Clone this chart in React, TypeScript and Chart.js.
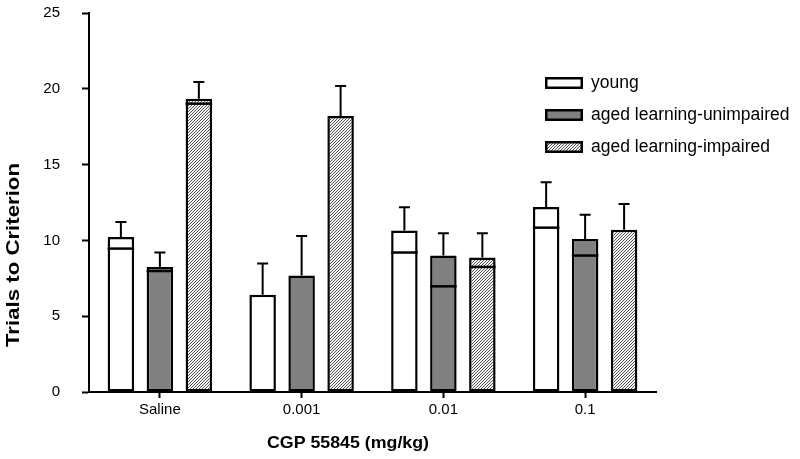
import React, { useEffect, useRef } from "react";
import { Chart, registerables } from "chart.js";

Chart.register(...registerables);

const categories = ["Saline", "0.001", "0.01", "0.1"];
const seriesNames = ["young", "aged learning-unimpaired", "aged learning-impaired"];

const youngMeans = [10.22, 6.42, 10.65, 12.2];
const youngSem = [0.99, 2.05, 1.53, 1.63];
const youngInner = [9.46, null, 9.2, 10.84];

const unimpairedMeans = [8.25, 7.68, 9.0, 10.09];
const unimpairedSem = [0.95, 2.61, 1.47, 1.61];
const unimpairedInner = [7.98, null, 6.97, 9.0];

const impairedMeans = [19.35, 18.2, 8.87, 10.71];
const impairedSem = [1.1, 1.98, 1.6, 1.69];
const impairedInner = [19.02, null, 8.25, null];

const yTicks = [0, 5, 10, 15, 20, 25];

const FONT = "'Liberation Sans', Arial, sans-serif";

function makeHatch(): CanvasPattern | string {
  const c = document.createElement("canvas");
  c.width = 3;
  c.height = 3;
  const g = c.getContext("2d");
  if (!g) return "#aaa";
  const img = g.createImageData(3, 3);
  for (let y = 0; y < 3; y++) {
    for (let x = 0; x < 3; x++) {
      const k = (y * 3 + x) * 4;
      const dark = (x + y) % 3 === 2;
      const v = dark ? 85 : 245;
      img.data[k] = v;
      img.data[k + 1] = v;
      img.data[k + 2] = v;
      img.data[k + 3] = 255;
    }
  }
  g.putImageData(img, 0, 0);
  const p = g.createPattern(c, "repeat");
  return p || "#aaa";
}

function fitText(ctx: any, text: string, x: number, y: number, target: number) {
  const w = ctx.measureText(text).width;
  const s = w > 0 ? target / w : 1;
  ctx.save();
  ctx.translate(x, y);
  ctx.scale(s, 1);
  ctx.fillText(text, 0, 0);
  ctx.restore();
}

const overlayPlugin = {
  id: "overlay",
  afterDatasetsDraw(chart: any) {
    const ctx = chart.ctx;
    const ys = chart.scales.y;
    ctx.save();
    chart.data.datasets.forEach((ds: any, i: number) => {
      const meta = chart.getDatasetMeta(i);
      meta.data.forEach((bar: any, j: number) => {
        const p = bar.getProps(["x", "y", "width"], true);
        const v = ds.data[j];
        const inner = ds.inner[j];
        if (inner !== null && inner !== undefined) {
          const yi = ys.getPixelForValue(inner);
          ctx.strokeStyle = "#000";
          ctx.lineWidth = 2.5;
          ctx.beginPath();
          ctx.moveTo(p.x - p.width / 2, yi);
          ctx.lineTo(p.x + p.width / 2, yi);
          ctx.stroke();
        }
        const yTop = ys.getPixelForValue(v + ds.sem[j]);
        ctx.strokeStyle = "#000";
        ctx.lineWidth = 2;
        ctx.beginPath();
        ctx.moveTo(p.x, p.y);
        ctx.lineTo(p.x, yTop);
        ctx.moveTo(p.x - 5.5, yTop);
        ctx.lineTo(p.x + 5.5, yTop);
        ctx.stroke();
      });
    });
    ctx.restore();
  },
  afterDraw(chart: any) {
    const ctx = chart.ctx;
    ctx.save();
    const lx = 545;
    const ly = [83, 115, 147];
    chart.data.datasets.forEach((ds: any, i: number) => {
      ctx.fillStyle = ds.backgroundColor;
      ctx.fillRect(lx, ly[i] - 6, 38, 12);
      ctx.strokeStyle = "#000";
      ctx.lineWidth = 2.5;
      ctx.strokeRect(lx + 1.25, ly[i] - 6 + 1.25, 38 - 2.5, 12 - 2.5);
      ctx.fillStyle = "#000";
      ctx.font = `17.5px ${FONT}`;
      ctx.textAlign = "left";
      ctx.textBaseline = "middle";
      ctx.fillText(ds.label, 591, ly[i]);
    });
    ctx.fillStyle = "#000";
    ctx.font = `bold 17px ${FONT}`;
    ctx.textAlign = "center";
    ctx.textBaseline = "middle";
    fitText(ctx, "CGP 55845 (mg/kg)", 348, 443, 162);
    ctx.translate(14, 255);
    ctx.rotate(-Math.PI / 2);
    ctx.font = `bold 18px ${FONT}`;
    fitText(ctx, "Trials to Criterion", 0, 0, 184);
    ctx.restore();
  },
};

export default function App() {
  const ref = useRef<HTMLCanvasElement | null>(null);

  useEffect(() => {
    if (!ref.current) return;
    const hatch = makeHatch();
    const common = {
      borderColor: "#000",
      borderWidth: 2.5,
      borderSkipped: false,
      categoryPercentage: 0.825,
      barPercentage: 0.68,
    };
    const chart = new Chart(ref.current, {
      type: "bar",
      data: {
        labels: categories,
        datasets: [
          { label: seriesNames[0], data: youngMeans, sem: youngSem, inner: youngInner, backgroundColor: "#ffffff", ...common } as any,
          { label: seriesNames[1], data: unimpairedMeans, sem: unimpairedSem, inner: unimpairedInner, backgroundColor: "#808080", ...common } as any,
          { label: seriesNames[2], data: impairedMeans, sem: impairedSem, inner: impairedInner, backgroundColor: hatch, ...common } as any,
        ],
      },
      options: {
        responsive: false,
        animation: false,
        layout: { padding: { top: 13, right: 144, left: 0, bottom: 0 } },
        plugins: { legend: { display: false }, tooltip: { enabled: false }, title: { display: false } },
        scales: {
          x: {
            offset: true,
            grid: { display: true, drawOnChartArea: false, offset: false, tickLength: 6, tickWidth: 2, tickColor: "#000" },
            border: { display: true, color: "#000", width: 2 },
            ticks: { color: "#000", font: { family: FONT, size: 15 }, padding: 3, maxRotation: 0 },
            afterFit: (s: any) => { s.height = 67; },
          },
          y: {
            min: 0,
            max: 25,
            afterBuildTicks: (s: any) => { s.ticks = yTicks.map((v) => ({ value: v })); },
            grid: { display: true, drawOnChartArea: false, tickLength: 7, tickWidth: 2, tickColor: "#000" },
            border: { display: true, color: "#000", width: 2 },
            ticks: { color: "#000", font: { family: FONT, size: 15 }, padding: 22 },
            afterFit: (s: any) => { s.width = 89; s.paddingTop = 0; s.paddingBottom = 0; },
          },
        },
      } as any,
      plugins: [overlayPlugin],
    });
    return () => chart.destroy();
  }, []);

  return (
    <div style={{ position: "absolute", left: 0, top: 0, width: 800, height: 459, background: "#fff" }}>
      <canvas ref={ref} width={800} height={459} style={{ display: "block" }} />
    </div>
  );
}
